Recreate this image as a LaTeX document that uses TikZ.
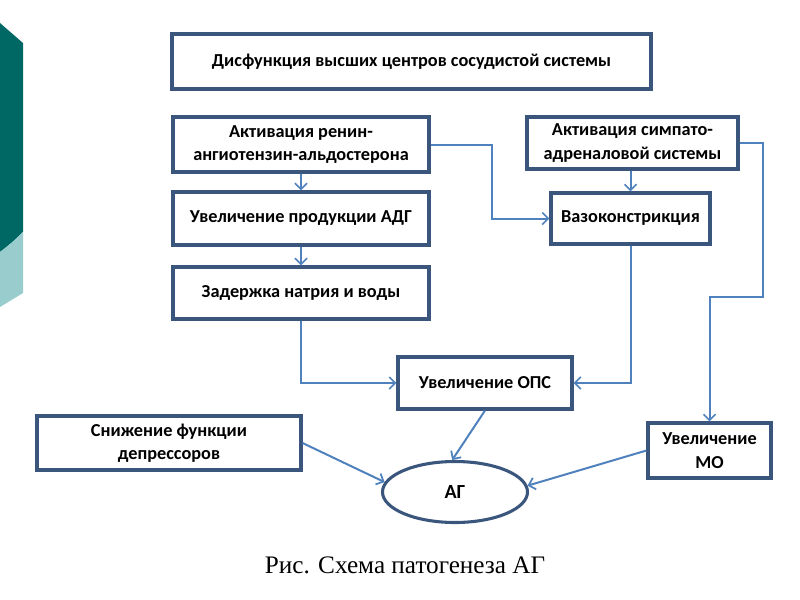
\documentclass[tikz,border=0pt]{standalone}
\usepackage{fontspec}
\setmainfont{Carlito}
\newfontfamily\capfont{Liberation Serif}
\usetikzlibrary{arrows.meta,shapes.geometric}
\definecolor{boxline}{RGB}{58,86,125}
\definecolor{arrowblue}{RGB}{79,129,189}
\definecolor{tealdark}{RGB}{0,104,100}
\definecolor{teallight}{RGB}{153,204,204}
\tikzset{
  box/.style={draw=boxline, line width=2.3pt, fill=white, align=center,
    font=\bfseries\fontsize{13.7}{17.5}\selectfont, inner sep=1pt},
  conn/.style={draw=arrowblue, line width=1.5pt,
    -{Straight Barb[length=4.5pt,width=9pt,line width=1.3pt]}},
}
\begin{document}
\begin{tikzpicture}[x=0.75pt,y=-0.75pt]
\useasboundingbox (0,0) rectangle (800,600);
% slide decoration
\fill[tealdark] (0,23) -- (23,43) -- (23,232) .. controls (15,240) and (8,246) .. (0,252) -- cycle;
\fill[teallight] (23,232) -- (23,293) -- (0,307) -- (0,252) .. controls (8,246) and (15,240) .. (23,232) -- cycle;
% boxes
\node[box, minimum width=359.25pt, minimum height=41.25pt] (top) at (411.5,61.5) {Дисфункция высших центров сосудистой системы};
\node[box, minimum width=192pt, minimum height=41.25pt] (renin) at (301,144.5) {Активация ренин-\\ангиотензин-альдостерона};
\node[box, minimum width=192pt, minimum height=39.75pt] (adg) at (301,218.5) {Увеличение продукции АДГ};
\node[box, minimum width=192pt, minimum height=39pt] (sod) at (301,293) {Задержка натрия и воды};
\node[box, minimum width=158.25pt, minimum height=39pt] (symp) at (632.5,143) {Активация симпато-\\адреналовой системы};
\node[box, minimum width=119.25pt, minimum height=38.25pt] (vaso) at (630.5,218.5) {Вазоконстрикция};
\node[box, minimum width=130.5pt, minimum height=39pt] (ops) at (485,383) {Увеличение ОПС};
\node[box, minimum width=198pt, minimum height=40.5pt] (dep) at (169,443) {Снижение функции\\депрессоров};
\node[box, minimum width=92.25pt, minimum height=41.25pt] (mo) at (709.5,450.5) {Увеличение\\МО};
\node[box, ellipse, minimum width=108.75pt, minimum height=45.75pt, font=\bfseries\fontsize{15}{18}\selectfont] (ag) at (455,492) {АГ};
% caption
\node[font=\capfont\fontsize{18.9}{22}\selectfont] (cap) at (405,565) {Рис. Схема патогенеза АГ};
% connectors
\coordinate (c1) at (763,297);
\draw[conn] (renin.south) -- (adg.north);
\draw[conn] (adg.south) -- (sod.north);
\draw[conn] (renin.east) -- ++(61,0) |- (vaso.west);
\draw[conn] (vaso.north |- symp.south) -- (vaso.north);
\draw[conn] (symp.east) -| (c1) -| (mo.north);
\draw[conn] (vaso.south) |- (ops.east);
\draw[conn] (sod.south) |- (ops.west);
\draw[conn] (ops.south) -- (ag.95);
\draw[conn] (dep.east) -- (ag.172);
\draw[conn] (mo.west) -- (ag.5);
\end{tikzpicture}
\end{document}
